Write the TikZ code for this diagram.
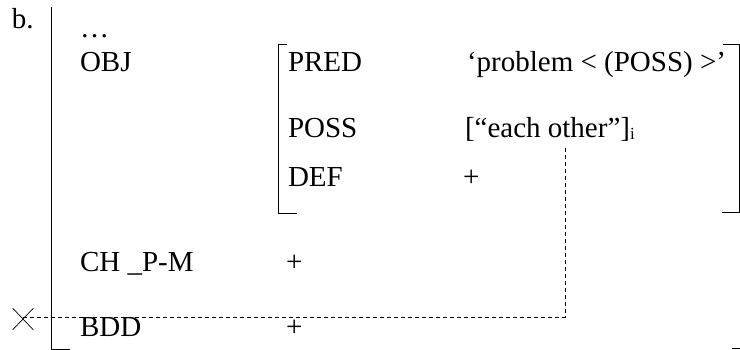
\documentclass[tikz,border=0pt]{standalone}
\usepackage{fontspec}
\setmainfont{Liberation Serif}
\usetikzlibrary{shapes.misc}
\begin{document}
\begin{tikzpicture}[x=1pt,y=-1pt,
  lbl/.style={anchor=base west,inner sep=0pt,outer sep=0pt,font=\fontsize{29}{34}\selectfont},
  brk/.style={line width=1pt},
  link/.style={line width=0.9pt,dash pattern=on 4pt off 3pt},
  crossmark/.style={cross out,draw,line width=0.7pt,minimum width=20pt,minimum height=21pt,inner sep=0pt}]
\useasboundingbox (0,0) rectangle (740,350);
% labels
\node[lbl] (b) at (12,29) {b.};
\node[lbl] (dots) at (80,38) {…};
\node[lbl] (obj) at (80,72) {OBJ};
\node[lbl] (pred) at (288,72) {PRED};
\node[lbl] (predv) at (467,72) {‘problem < (POSS) >’};
\node[lbl] (poss) at (288,138) {POSS};
\node[lbl] (possv) at (465,138) {[“each other”]\raisebox{-2pt}{\fontsize{17}{17}\selectfont i}};
\node[lbl] (def) at (288,187) {DEF};
\node[lbl] (defv) at (463,187) {+};
\node[lbl] (chpm) at (80,272) {CH \_P-M};
\node[lbl] (chpmv) at (286,272) {+};
\node[lbl] (bdd) at (80,337) {BDD};
\node[lbl] (bddv) at (286,337) {+};
% outer bracket
\coordinate (ot) at (51,7);
\coordinate (ob) at (51,349);
\coordinate (obt) at (70,349);
\draw[brk] (ot) -- (ob) -- (obt);
\coordinate (rt1) at (732,348);
\coordinate (rt2) at (740,348);
\draw[brk] (rt1) -- (rt2);
% inner bracket
\coordinate (il1) at (287,45);
\coordinate (il2) at (278,45);
\coordinate (il3) at (278,214);
\coordinate (il4) at (297,214);
\draw[brk] (il1) -- (il2) -- (il3) -- (il4);
\coordinate (ir1) at (723,45);
\coordinate (ir2) at (739,45);
\coordinate (ir3) at (739,213);
\coordinate (ir4) at (722,213);
\draw[brk] (ir1) -- (ir2) -- (ir3) -- (ir4);
% cross and dashed connector
\node[crossmark] (cross) at (23,319) {};
\coordinate (tgt) at (565,147);
\draw[link] ([yshift=2pt]cross.center) -| (tgt);
\end{tikzpicture}
\end{document}
